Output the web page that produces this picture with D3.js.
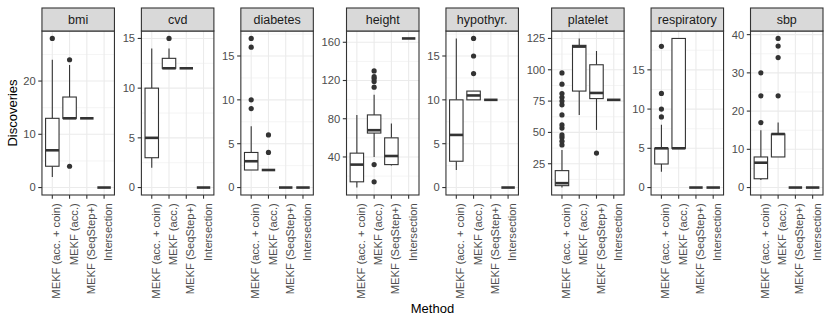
<!DOCTYPE html>
<html>
<head>
<meta charset="utf-8">
<script src="https://cdn.jsdelivr.net/npm/d3@7"></script>
<style>
  body { margin: 0; background: #fff; }
  text { font-family: "Liberation Sans", Arial, Helvetica, sans-serif; }
</style>
</head>
<body>
<div id="chart"></div>
<script>
// facets and methods
const facets = ["bmi", "cvd", "diabetes", "height", "hypothyr.", "platelet", "respiratory", "sbp"];
const methods = ["MEKF (acc. + coin)", "MEKF (acc.)", "MEKF (SeqStep+)", "Intersection"];

// y tick labels per facet (free scales)
const yTicks = [
    [0, 10, 20],
    [0, 5, 10, 15],
    [0, 5, 10, 15],
    [40, 80, 120, 160],
    [0, 5, 10, 15],
    [25, 50, 75, 100, 125],
    [0, 5, 10, 15],
    [0, 10, 20, 30, 40]
];

// box statistics, one row per facet, one value per method
const lower = [
    [2, 13, 13, 0], [2, 12, 12, 0], [2, 2, 0, 0], [8, 40, 31, 164],
    [2, 10, 10, 0], [6, 64, 52, 76], [2, 5, 0, 0], [2, 8, 0, 0]
];
const q1 = [
    [4, 13, 13, 0], [3, 12, 12, 0], [2, 2, 0, 0], [14, 65, 32, 164],
    [3, 10, 10, 0], [7.5, 83, 77, 76], [3, 5, 0, 0], [2.3, 8, 0, 0]
];
const median = [
    [7, 13, 13, 0], [5, 12, 12, 0], [3, 2, 0, 0], [32, 68, 41, 164],
    [6, 10.5, 10, 0], [9.5, 118.5, 81.5, 76], [5, 5, 0, 0], [6.5, 14, 0, 0]
];
const q3 = [
    [13, 17, 13, 0], [10, 13, 12, 0], [4, 2, 0, 0], [44, 84, 60, 164],
    [10, 11, 10, 0], [19.5, 119.5, 104, 76], [5, 19, 0, 0], [8, 14, 0, 0]
];
const upper = [
    [24, 23, 13, 0], [14, 14, 12, 0], [7, 2, 0, 0], [84, 105, 75, 164],
    [17, 11, 10, 0], [36, 125, 115, 76], [8, 19, 0, 0], [15, 17, 0, 0]
];
const outliers = [
    [[28], [24, 4], [], []],
    [[], [15], [], []],
    [[9, 10, 16, 17], [4, 6], [], []],
    [[], [14, 32, 113, 119, 122, 124, 130], [], []],
    [[], [13, 15, 17], [], []],
    [[40, 43, 46, 48, 53.5, 56, 64, 72, 75, 78, 81, 88.5, 97.5], [], [33.5], []],
    [[9, 10, 12, 18], [], [], []],
    [[17, 24, 30], [24, 34, 37, 39], [], []]
];

const width = 830, height = 323;
const svg = d3.select("#chart").append("svg")
    .attr("width", width)
    .attr("height", height)
    .style("background", "white");

// settings
let tickFont = 11.2, stripFont = 12.5, titleFont = 13;
let stripTop = 8, panelTop = 31, panelBottom = 195, plotRight = 823;
let tickLen = 3.7, gapPad = 14.5, firstPad = 29.5;
let dark = "#333333", grid = "#EBEBEB";

// widths of y tick labels decide the gaps between panels
let measure = svg.append("text").style("font-size", tickFont + "px");
let labelW = yTicks.map(t => d3.max(t, v => {
    measure.text(v);
    return measure.node().getComputedTextLength();
}));
measure.remove();

let offsets = labelW.map((w, i) => (i == 0 ? firstPad : gapPad) + w);
let panelW = (plotRight - d3.sum(offsets)) / facets.length;
let lefts = [], cur = 0;
offsets.forEach(o => { cur += o; lefts.push(cur); cur += panelW; });

facets.forEach((facet, i) => {
    let g = svg.append("g").attr("transform", "translate(" + lefts[i] + ",0)");

    let x = d3.scalePoint().domain(methods).range([0, panelW]).padding(0.6);
    let step = x.step();
    let vals = [].concat(lower[i], upper[i], ...outliers[i]);
    let lo = d3.min(vals), hi = d3.max(vals);
    let span = hi - lo;
    let y = d3.scaleLinear()
        .domain([lo - 0.05 * span, hi + 0.05 * span])
        .range([panelBottom, panelTop]);

    // minor grid
    let tks = yTicks[i];
    let tstep = tks[1] - tks[0];
    let minor = [];
    for (let k = 0; k < tks.length - 1; k++) minor.push((tks[k] + tks[k + 1]) / 2);
    minor.push(tks[0] - tstep / 2, tks[tks.length - 1] + tstep / 2);
    minor = minor.filter(v => v > y.domain()[0] && v < y.domain()[1]);

    g.append("rect")
        .attr("x", 0).attr("y", panelTop)
        .attr("width", panelW).attr("height", panelBottom - panelTop)
        .attr("fill", "white");

    g.selectAll(".minor").data(minor).enter().append("line")
        .attr("x1", 0).attr("x2", panelW)
        .attr("y1", d => y(d)).attr("y2", d => y(d))
        .attr("stroke", grid).attr("stroke-width", 0.55);

    g.selectAll(".major-y").data(tks).enter().append("line")
        .attr("x1", 0).attr("x2", panelW)
        .attr("y1", d => y(d)).attr("y2", d => y(d))
        .attr("stroke", grid).attr("stroke-width", 1.1);

    g.selectAll(".major-x").data(methods).enter().append("line")
        .attr("x1", d => x(d)).attr("x2", d => x(d))
        .attr("y1", panelTop).attr("y2", panelBottom)
        .attr("stroke", grid).attr("stroke-width", 1.1);

    // boxes
    let bw = step * 0.78;
    methods.forEach((m, j) => {
        let cx = x(m);
        let box = g.append("g");
        box.append("line")
            .attr("x1", cx).attr("x2", cx)
            .attr("y1", y(q3[i][j])).attr("y2", y(upper[i][j]))
            .attr("stroke", dark).attr("stroke-width", 1.1);
        box.append("line")
            .attr("x1", cx).attr("x2", cx)
            .attr("y1", y(q1[i][j])).attr("y2", y(lower[i][j]))
            .attr("stroke", dark).attr("stroke-width", 1.1);
        box.append("rect")
            .attr("x", cx - bw / 2).attr("width", bw)
            .attr("y", y(q3[i][j]))
            .attr("height", y(q1[i][j]) - y(q3[i][j]))
            .attr("fill", "white")
            .attr("stroke", dark).attr("stroke-width", 1.1);
        box.append("line")
            .attr("x1", cx - bw / 2).attr("x2", cx + bw / 2)
            .attr("y1", y(median[i][j])).attr("y2", y(median[i][j]))
            .attr("stroke", dark).attr("stroke-width", 2.6);
        box.selectAll("circle").data(outliers[i][j]).enter().append("circle")
            .attr("cx", cx).attr("cy", d => y(d))
            .attr("r", 2.6)
            .attr("fill", dark);
    });

    // panel border
    g.append("rect")
        .attr("x", 0).attr("y", panelTop)
        .attr("width", panelW).attr("height", panelBottom - panelTop)
        .attr("fill", "none").attr("stroke", dark).attr("stroke-width", 1.1);

    // strip
    g.append("rect")
        .attr("x", 0).attr("y", stripTop)
        .attr("width", panelW).attr("height", panelTop - stripTop)
        .attr("fill", "#D9D9D9").attr("stroke", dark).attr("stroke-width", 1.1);
    g.append("text")
        .attr("x", panelW / 2).attr("y", (stripTop + panelTop) / 2)
        .attr("dy", "0.35em")
        .attr("text-anchor", "middle")
        .style("font-size", stripFont + "px")
        .attr("fill", "#1A1A1A")
        .text(facet);

    // y axis
    g.selectAll(".ytick").data(tks).enter().append("line")
        .attr("x1", -tickLen).attr("x2", 0)
        .attr("y1", d => y(d)).attr("y2", d => y(d))
        .attr("stroke", dark).attr("stroke-width", 1.1);
    g.selectAll(".ylab").data(tks).enter().append("text")
        .attr("x", -tickLen - 2.6).attr("y", d => y(d))
        .attr("dy", "0.35em")
        .attr("text-anchor", "end")
        .style("font-size", tickFont + "px")
        .attr("fill", "#4D4D4D")
        .text(d => d);

    // x axis
    g.selectAll(".xtick").data(methods).enter().append("line")
        .attr("x1", d => x(d)).attr("x2", d => x(d))
        .attr("y1", panelBottom).attr("y2", panelBottom + tickLen)
        .attr("stroke", dark).attr("stroke-width", 1.1);
    g.selectAll(".xlab").data(methods).enter().append("text")
        .attr("transform", d => "translate(" + x(d) + "," + (panelBottom + tickLen + 4.5) + ") rotate(-90)")
        .attr("dy", "0.72em")
        .attr("text-anchor", "end")
        .style("font-size", tickFont + "px")
        .attr("fill", "#4D4D4D")
        .text(d => d);
});

// axis titles
svg.append("text")
    .attr("transform", "translate(" + 12 + "," + (panelTop + panelBottom) / 2 + ") rotate(-90)")
    .attr("dy", "0.35em")
    .attr("text-anchor", "middle")
    .style("font-size", titleFont + "px")
    .attr("fill", "black")
    .text("Discoveries");

svg.append("text")
    .attr("x", (lefts[0] + plotRight) / 2)
    .attr("y", 308)
    .attr("dy", "0.35em")
    .attr("text-anchor", "middle")
    .style("font-size", titleFont + "px")
    .attr("fill", "black")
    .text("Method");
</script>
</body>
</html>
